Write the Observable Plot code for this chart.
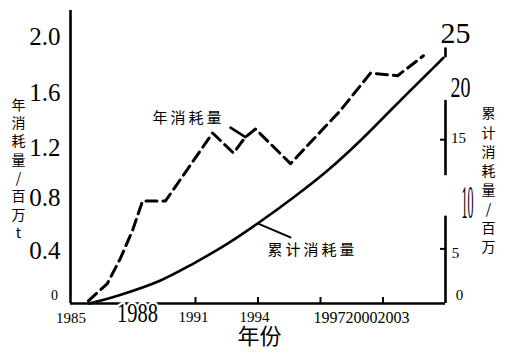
<!DOCTYPE html>
<html><head><meta charset="utf-8">
<script src="https://cdn.jsdelivr.net/npm/d3@7"></script>
<script src="https://cdn.jsdelivr.net/npm/@observablehq/plot@0.6"></script>
<style>html,body{margin:0;padding:0;background:#fff}svg{display:block}</style>
</head><body><div id="chart"></div>
<script>
// ---- data ----
const annualYears  = [1985.86, 1986.77, 1987.4, 1987.98, 1988.46, 1989.56, 1991.82, 1992.82, 1993.4, 1993.88, 1995.56, 1997.96, 1999.4, 2000.7, 2001.94];
const annualValues = [0.02, 0.15, 0.34, 0.55, 0.77, 0.77, 1.28, 1.13, 1.25, 1.31, 1.05, 1.45, 1.73, 1.71, 1.86];
const cumulativeYears  = [1985.9, 1987.3, 1989.32, 1990.9, 1992.54, 1993.98, 1995.7, 1997.34, 1998.92, 2000.5, 2002.14, 2002.9];
const cumulativeValues = [0, 0.73, 2.11, 3.66, 5.49, 7.33, 9.71, 12.18, 14.93, 17.95, 21.06, 22.5];
const leftTicks = [0, 0.4, 0.8, 1.2, 1.6, 2.0];
const leftTickLabels = ["0", "0.4", "0.8", "1.2", "1.6", "2.0"];
const rightTicks = [0, 5, 10, 15, 20, 25];
const rightTickLabels = ["0", "5", "10", "15", "20", "25"];
const xTicks = [1985, 1988, 1991, 1994, 1997, 2000, 2003];
const xTickLabels = ["1985", "1988", "1991", "1994", "1997", "2000", "2003"];
const xTickMarks = [1991, 1994, 1997, 2000];
const rightTickMarks = [5, 15];
const rightAxisSegments = [[0, 8], [11.7, 18.6], [22.5, 23.4]];
const annualLabel = "年消耗量";
const cumulativeLabel = "累计消耗量";
const xTitle = "年份";
const leftTitle = "年消耗量/百万t";
const rightTitle = "累计消耗量/百万";
// annotation anchors (data units: year, left-axis value)
const annualNote = {year: 1990.66, value: 1.39, leader: [[1992.68, 1.32], [1993.4, 1.25]]};
const cumulativeNote = {year: 1996.62, value: 0.40, leader: [[1993.98, 7.33 * 2.05 / 25], [1995.56, 0.496]]};

// ---- layout / style ----
const K = 2.05 / 25; // right-axis units -> left-axis units
const serif = "'Liberation Serif', 'Times New Roman', serif";
const cjk = "'Noto Sans CJK SC', sans-serif";
const leftStyle = {
  "0":   {size: 14, dx: -16, dy: -8, anchor: "middle"},
  "0.4": {size: 25, dx: -10, dy: 1, anchor: "end"},
  "0.8": {size: 25, dx: -10, dy: 1, anchor: "end"},
  "1.2": {size: 25, dx: -10, dy: 4, anchor: "end"},
  "1.6": {size: 25, dx: -10, dy: 3, anchor: "end"},
  "2.0": {size: 25, dx: -10, dy: 0, anchor: "end"}
};
const rightStyle = {
  "0":  {size: 15, dx: 14, dy: -8},
  "5":  {size: 15, dx: 10, dy: 4},
  "10": {size: 46, dx: 22, dy: 9, squeeze: 12},
  "15": {size: 15, dx: 13, dy: -1},
  "20": {size: 29, dx: 15, dy: 2.5, squeeze: 20},
  "25": {size: 30, dx: 10, dy: 3}
};
const xStyle = {
  "1985": {size: 15, dx: 0.5, dy: 15},
  "1988": {size: 27, dx: 4.5, dy: 10, squeeze: 41, halo: true},
  "1991": {size: 15, dx: -2, dy: 14},
  "1994": {size: 15, dx: -3.5, dy: 14},
  "1997": {size: 16, dx: 9, dy: 14},
  "2000": {size: 16, dx: -21.5, dy: 14},
  "2003": {size: 16, dx: -52, dy: 14}
};

const annual = annualYears.map((y, i) => ({year: y, value: annualValues[i]}));
const cumulative = cumulativeYears.map((y, i) => ({year: y, value: cumulativeValues[i]}));

const marks = [];
// axis lines
marks.push(Plot.ruleX([1985], {y1: 0, y2: 2.2, strokeWidth: 2.6, stroke: "#000"}));
marks.push(Plot.ruleY([0], {x1: 1985, x2: 2003, strokeWidth: 2.6, stroke: "#000"}));
marks.push(Plot.ruleX(rightAxisSegments, {x: () => 2003, y1: d => d[0] * K, y2: d => d[1] * K, strokeWidth: 2.6, stroke: "#000"}));
marks.push(Plot.ruleX(xTickMarks, {y1: 0, y2: 6 / 133.18, strokeWidth: 2, stroke: "#000"}));
marks.push(Plot.ruleY(rightTickMarks, {y: d => d * K, x1: 2003 - 5 / 20.83, x2: 2003, strokeWidth: 2, stroke: "#000"}));
// series
marks.push(Plot.line(cumulative, {x: "year", y: d => d.value * K, stroke: "#000", strokeWidth: 2.6, curve: "catmull-rom"}));
marks.push(Plot.line(annual, {x: "year", y: "value", stroke: "#000", strokeWidth: 3, strokeDasharray: "11,6"}));
// leaders
marks.push(Plot.line(annualNote.leader, {x: d => d[0], y: d => d[1], stroke: "#000", strokeWidth: 2.6}));
marks.push(Plot.line(cumulativeNote.leader, {x: d => d[0], y: d => d[1], stroke: "#000", strokeWidth: 2}));
// annotations
marks.push(Plot.text([annualNote], {x: "year", y: "value", text: () => annualLabel, fontFamily: cjk, fontSize: 15, fill: "#000"}));
marks.push(Plot.text([cumulativeNote], {x: "year", y: "value", text: () => cumulativeLabel, fontFamily: cjk, fontSize: 15, fill: "#000"}));
// left tick labels
leftTicks.forEach((v, i) => {
  const s = leftStyle[leftTickLabels[i]];
  marks.push(Plot.text([v], {x: () => 1985, y: d => d, text: () => leftTickLabels[i], fontFamily: serif, fontSize: s.size, textAnchor: s.anchor, dx: s.dx, dy: s.dy, fill: "#000"}));
});
// right tick labels
rightTicks.forEach((v, i) => {
  const s = rightStyle[rightTickLabels[i]];
  marks.push(Plot.text([v], {x: () => 2003, y: d => d * K, text: () => rightTickLabels[i], fontFamily: serif, fontSize: s.size, textAnchor: "middle", dx: s.dx, dy: s.dy, fill: "#000"}));
});
// x tick labels
xTicks.forEach((v, i) => {
  const s = xStyle[xTickLabels[i]];
  const opts = {x: d => d, y: () => 0, text: () => xTickLabels[i], fontFamily: serif, fontSize: s.size, textAnchor: "middle", dx: s.dx, dy: s.dy, fill: "#000"};
  if (s.halo) { opts.stroke = "#fff"; opts.strokeWidth = 5; }
  marks.push(Plot.text([v], opts));
});
// titles
marks.push(Plot.text([xTitle], {frameAnchor: "bottom", text: d => d, dx: 1.5, dy: 40, fontFamily: cjk, fontSize: 22, fill: "#000"}));
marks.push(Plot.text([leftTitle.split("").join("\n")], {frameAnchor: "left", text: d => d, dx: -52, dy: 11, textAnchor: "middle", lineHeight: 1.31, fontFamily: cjk, fontSize: 14, fill: "#000"}));
marks.push(Plot.text([rightTitle.split("").join("\n")], {frameAnchor: "right", text: d => d, dx: 43, dy: 22, textAnchor: "middle", lineHeight: 1.36, fontFamily: cjk, fontSize: 14, fill: "#000"}));

const chart = Plot.plot({
  width: 521, height: 359,
  marginLeft: 70, marginRight: 76, marginTop: 10, marginBottom: 56,
  x: {domain: [1985, 2003], axis: null},
  y: {domain: [0, 2.2], axis: null},
  style: {background: "#fff", color: "#000", fontFamily: serif, overflow: "visible"},
  marks
});
// per-label glyph squeezing and letter spacing
const squeeze = {};
Object.entries(rightStyle).concat(Object.entries(xStyle)).forEach(([k, s]) => { if (s.squeeze) squeeze[k] = s.squeeze; });
chart.querySelectorAll("text").forEach(t => {
  const c = t.textContent;
  if (squeeze[c] && t.childElementCount === 0) {
    t.setAttribute("textLength", squeeze[c]);
    t.setAttribute("lengthAdjust", "spacingAndGlyphs");
  }
  if (c === annualLabel || c === cumulativeLabel) t.style.letterSpacing = "3px";
});
document.getElementById("chart").appendChild(chart);
</script>
</body></html>
